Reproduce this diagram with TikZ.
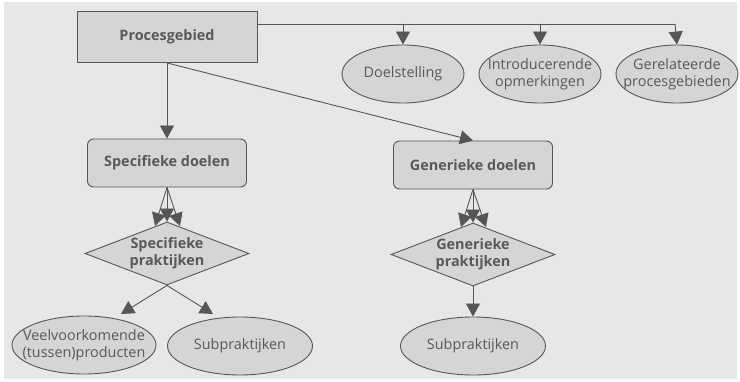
\documentclass[tikz,border=0pt]{standalone}
\usepackage{fontspec}
\setmainfont{Open Sans}
\usetikzlibrary{shapes.geometric,arrows.meta}
\definecolor{panel}{HTML}{E6E7E8}
\definecolor{boxfill}{HTML}{D4D5D6}
\definecolor{ink}{HTML}{555658}
\definecolor{txt}{HTML}{58595B}
\tikzset{
  every node/.style={text=txt, font=\fontsize{14.4}{17}\selectfont, align=center},
  link/.style={draw=ink, line width=0.9pt, -{Triangle[length=13pt,width=14pt]}},
  plain/.style={draw=ink, line width=0.9pt},
  areabox/.style={draw=ink, line width=0.9pt, fill=boxfill, minimum width=180pt, minimum height=51pt, inner sep=0pt, font=\fontsize{14.4}{17}\selectfont\bfseries},
  goalbox/.style={draw=ink, line width=0.9pt, fill=boxfill, rounded corners=6pt, minimum width=159pt, minimum height=48pt, inner sep=0pt, font=\fontsize{14.4}{17}\selectfont\bfseries},
  practice/.style={draw=ink, line width=0.9pt, fill=boxfill, shape=diamond, aspect=2.6, minimum width=164pt, minimum height=63pt, inner sep=0pt, font=\fontsize{14.4}{17}\selectfont\bfseries},
  % ellipse of fixed size; its text is set as a centred label
  part/.style 2 args={draw=ink, line width=0.9pt, fill=boxfill, shape=ellipse, inner sep=0pt, minimum height=58pt, minimum width=#1, label={center:{#2}}}
}
\begin{document}
\begin{tikzpicture}[x=1pt, y=-1pt]
  \useasboundingbox (0,0) rectangle (740,382);
  \fill[panel] (4,2) rectangle (737,379);

  % top level
  \node[areabox] (pg) at (167,37) {Procesgebied};
  \node[part={122pt}{Doelstelling}] (doel) at (403,74) {};
  \node[part={122pt}{Introducerende\\opmerkingen}] (intro) at (540,74) {};
  \node[part={122pt}{Gerelateerde\\procesgebieden}] (rel) at (677,74) {};

  % goals
  \node[goalbox] (sd) at (167,163) {Specifieke doelen};
  \node[goalbox] (gd) at (473,165) {Generieke doelen};

  % practices
  \node[practice] (sp) at (167,253.5) {Specifieke\\praktijken};
  \node[practice] (gp) at (473,254.5) {Generieke\\praktijken};

  % leaves
  \node[part={144pt}{Veelvoorkomende\\(tussen)producten}] (prod) at (84,345) {};
  \node[part={145pt}{Subpraktijken}] (subl) at (240,346) {};
  \node[part={145pt}{Subpraktijken}] (subr) at (473,346) {};

  % bus from the process area to the three information ellipses
  \coordinate (bus0) at (257,24);
  \coordinate (busA) at (403,24);
  \coordinate (busB) at (540,24);
  \coordinate (busC) at (675,24);
  \draw[plain] (bus0) -- (busC);
  \draw[link] (busA) -- (doel.north);
  \draw[link] (busB) -- (intro.north);
  \draw[link] (busC) -- (rel.north);

  % process area to goals
  \draw[link] (pg.south) -- (sd.north);
  \draw[link] (pg.south) -- (gd.north);

  % goals to practices (fan of three)
  \coordinate (sdl) at (155,226);
  \coordinate (sdr) at (180,226);
  \draw[link] (sd.south) -- (sp.north);
  \draw[link] (sd.south) -- (sdl);
  \draw[link] (sd.south) -- (sdr);

  \coordinate (gdl) at (461,227);
  \coordinate (gdr) at (486,227);
  \draw[link] (gd.south) -- (gp.north);
  \draw[link] (gd.south) -- (gdl);
  \draw[link] (gd.south) -- (gdr);

  % practices to leaves
  \coordinate (spl) at (121,314);
  \coordinate (spr) at (213,314);
  \draw[link] (sp.south) -- (spl);
  \draw[link] (sp.south) -- (spr);
  \draw[link] (gp.south) -- (subr.north);
\end{tikzpicture}
\end{document}
